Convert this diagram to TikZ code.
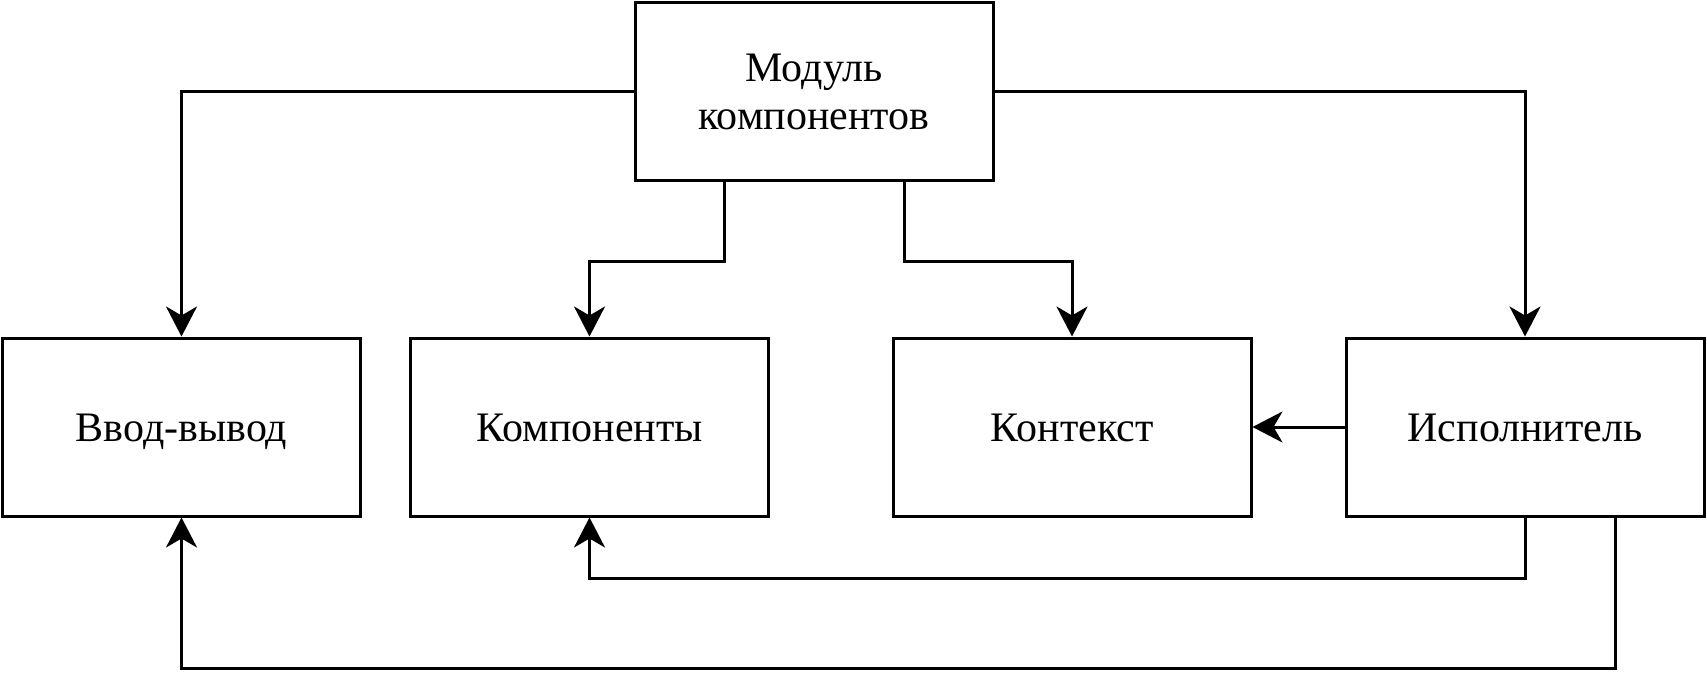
\documentclass[tikz,border=0pt]{standalone}
\usepackage{fontspec}
\setmainfont{Liberation Serif}
\usetikzlibrary{arrows.meta}

\begin{document}
\begin{tikzpicture}[x=1pt, y=-1pt, line width=3pt,
    block/.style={draw, minimum width=358pt, minimum height=178pt, align=center,
        font=\fontsize{42}{48}\selectfont},
    oneline/.style={block, text height=29pt, text depth=0pt},
    link/.style={-{Stealth[length=30pt, width=31pt, inset=9pt]}}]
    \useasboundingbox (0,0) rectangle (1707,693);

    % Place the blocks
    \node[block] (module) at (814,91.5) {Модуль\\компонентов};
    \node[oneline] (io) at (181.5,427) {Ввод-вывод};
    \node[oneline] (comps) at (589.5,427) {Компоненты};
    \node[oneline] (ctx) at (1072,427) {Контекст};
    \node[oneline] (exec) at (1525,427) {Исполнитель};

    % Links from the module
    \draw[link] (module.west) -| (io.north);
    \draw[link] (module.east) -| (exec.north);
    \draw[link] ([xshift=-90pt]module.south) -- ++(0,79) -| (comps.north);
    \draw[link] ([xshift=90pt]module.south) -- ++(0,79) -| (ctx.north);

    % Links from the executor
    \draw[link] (exec.west) -- (ctx.east);
    \draw[link] (exec.south) -- ++(0,61) -| (comps.south);
    \draw[link] ([xshift=90pt]exec.south) -- ++(0,151) -| (io.south);
\end{tikzpicture}
\end{document}
